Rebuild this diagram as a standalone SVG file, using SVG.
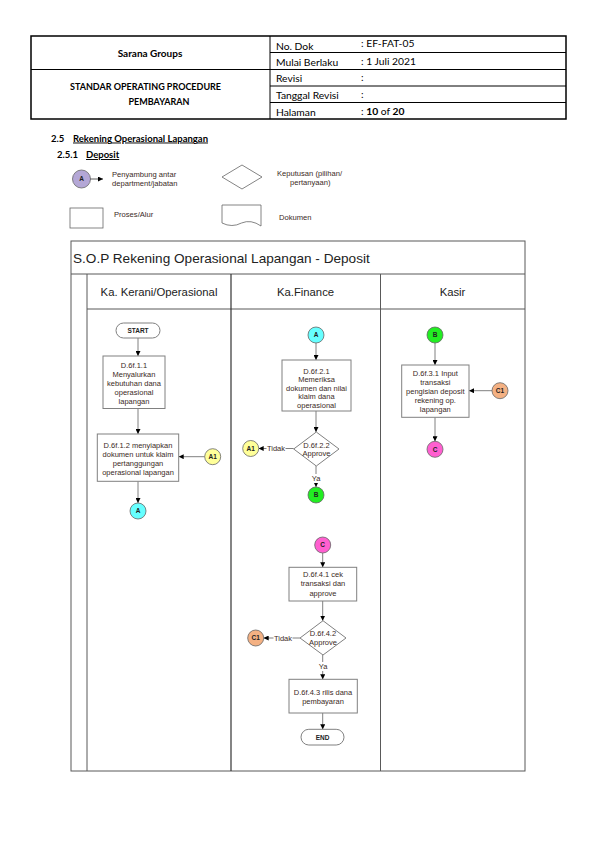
<svg xmlns="http://www.w3.org/2000/svg" width="595" height="842" viewBox="0 0 595 842">
<style>
.hd{font-family:Lato,"Liberation Sans",sans-serif;fill:#000}
.b{font-weight:bold}
.t{font-family:"Liberation Sans",Arial,sans-serif;font-size:7.5px;fill:#3b2a1e;text-anchor:middle}
.lg{font-family:"Liberation Sans",Arial,sans-serif;font-size:7.6px;fill:#3b2a1e}
.box{fill:#fff;stroke:#808080;stroke-width:1}
.cn{stroke:#333;stroke-width:0.8}
.ln{fill:none;stroke:#808080;stroke-width:1}
.fr{fill:none;stroke:#595959;stroke-width:1}
.lane{font-family:"Liberation Sans",Arial,sans-serif;font-size:11.3px;fill:#222;text-anchor:middle}
.ct{font-family:"Liberation Sans",Arial,sans-serif;font-size:6.5px;font-weight:bold;fill:#222;text-anchor:middle}
</style>
<defs>
<marker id="ah" viewBox="0 0 10 10" refX="10" refY="5" markerWidth="5" markerHeight="5" orient="auto" markerUnits="userSpaceOnUse"><path d="M0,0 L10,5 L0,10 z" fill="#000"/></marker>
</defs>
<rect width="595" height="842" fill="#fff"/>

<g id="header">
<rect x="31" y="36" width="535" height="83" fill="none" stroke="#000" stroke-width="1.5"/>
<line x1="270" y1="36" x2="270" y2="119" stroke="#000" stroke-width="1"/>
<line x1="31" y1="69.5" x2="566" y2="69.5" stroke="#000" stroke-width="1"/>
<line x1="270" y1="52.5" x2="566" y2="52.5" stroke="#000" stroke-width="1"/>
<line x1="270" y1="86" x2="566" y2="86" stroke="#000" stroke-width="1"/>
<line x1="270" y1="102.5" x2="566" y2="102.5" stroke="#000" stroke-width="1"/>
<text class="hd b" x="150" y="56.5" font-size="10" text-anchor="middle">Sarana Groups</text>
<text class="hd b" x="145.5" y="90" font-size="9" text-anchor="middle">STANDAR OPERATING PROCEDURE</text>
<text class="hd b" x="159" y="104.5" font-size="9" text-anchor="middle">PEMBAYARAN</text>
<text class="hd" x="276" y="49.5" font-size="10.3">No. Dok</text>
<text class="hd" x="276" y="66" font-size="10.3">Mulai Berlaku</text>
<text class="hd" x="276" y="81.5" font-size="10.3">Revisi</text>
<text class="hd" x="276" y="99" font-size="10.3">Tanggal Revisi</text>
<text class="hd" x="276" y="115.5" font-size="10.3">Halaman</text>
<text class="hd" x="361" y="46.5" font-size="10.3">: EF-FAT-05</text>
<text class="hd" x="361" y="64.5" font-size="10.3">: 1 Juli 2021</text>
<text class="hd" x="361" y="80.5" font-size="10.3">:</text>
<text class="hd" x="361" y="97.5" font-size="10.3">:</text>
<text class="hd" x="361" y="115" font-size="10.3">: <tspan class="b">10</tspan> of <tspan class="b">20</tspan></text>
</g>

<g id="section">
<text class="hd b" x="51" y="141.5" font-size="9.5">2.5 <tspan x="73" text-decoration="underline">Rekening Operasional Lapangan</tspan></text>
<text class="hd b" x="57" y="158" font-size="9.5">2.5.1 <tspan x="86" text-decoration="underline">Deposit</tspan></text>
</g>

<g id="legend">
<circle cx="81.5" cy="179" r="9" fill="#b4a7d6" stroke="#666" stroke-width="0.8"/>
<text class="ct" x="81.5" y="181.3">A</text>
<line x1="90.5" y1="179" x2="103" y2="179" class="cn" marker-end="url(#ah)"/>
<text class="lg" x="112" y="176.5">Penyambung antar</text>
<text class="lg" x="112" y="186">department/jabatan</text>
<polygon points="222,177 242,165 262,177 242,189" fill="#fff" stroke="#666" stroke-width="0.8"/>
<text class="lg" x="277" y="175.5">Keputusan (pilihan/</text>
<text class="lg" x="290" y="184.5">pertanyaan)</text>
<rect x="70" y="208" width="33" height="20" fill="#fff" stroke="#666" stroke-width="0.8"/>
<text class="lg" x="114" y="216.5">Proses/Alur</text>
<path d="M222,205 L261,205 L261,226 Q251,219 241.5,223 Q232,228 222,223 Z" fill="#fff" stroke="#666" stroke-width="0.8"/>
<text class="lg" x="279" y="220">Dokumen</text>
</g>

<g id="frame">
<rect x="71" y="241" width="454" height="530" class="fr"/>
<line x1="71" y1="274" x2="525" y2="274" class="fr"/>
<line x1="87" y1="274" x2="87" y2="771" class="fr"/>
<line x1="87" y1="309" x2="525" y2="309" class="fr"/>
<line x1="231" y1="274" x2="231" y2="771" stroke="#333" stroke-width="1.2"/>
<line x1="380.5" y1="274" x2="380.5" y2="771" class="fr"/>
<text x="73" y="262.5" font-family="Liberation Sans, Arial, sans-serif" font-size="13.6" fill="#222">S.O.P Rekening Operasional Lapangan - Deposit</text>
<text class="lane" x="159" y="296">Ka. Kerani/Operasional</text>
<text class="lane" x="305.5" y="296">Ka.Finance</text>
<text class="lane" x="452.5" y="296">Kasir</text>
</g>

<g id="connectors">
<line x1="138" y1="338" x2="138" y2="356" class="ln" marker-end="url(#ah)"/>
<line x1="138" y1="408.5" x2="138" y2="434" class="ln" marker-end="url(#ah)"/>
<line x1="204.7" y1="456.7" x2="178.7" y2="456.7" class="ln" marker-end="url(#ah)"/>
<line x1="138" y1="481.3" x2="138" y2="503" class="ln" marker-end="url(#ah)"/>
<line x1="316" y1="343" x2="316" y2="360" class="ln" marker-end="url(#ah)"/>
<line x1="316" y1="411" x2="316" y2="432" class="ln" marker-end="url(#ah)"/>
<line x1="293.7" y1="448.5" x2="258.7" y2="448.5" class="ln" marker-end="url(#ah)"/>
<line x1="316" y1="466" x2="316" y2="487" class="ln" marker-end="url(#ah)"/>
<line x1="435" y1="343" x2="435" y2="365" class="ln" marker-end="url(#ah)"/>
<line x1="492" y1="390.7" x2="469" y2="390.7" class="ln" marker-end="url(#ah)"/>
<line x1="435" y1="417.3" x2="435" y2="441.3" class="ln" marker-end="url(#ah)"/>
<line x1="322.7" y1="553" x2="322.7" y2="567.3" class="ln" marker-end="url(#ah)"/>
<line x1="322.7" y1="601" x2="322.7" y2="620.7" class="ln" marker-end="url(#ah)"/>
<line x1="300" y1="638" x2="263.7" y2="638" class="ln" marker-end="url(#ah)"/>
<line x1="322.7" y1="655" x2="322.7" y2="679.3" class="ln" marker-end="url(#ah)"/>
<line x1="322.7" y1="713" x2="322.7" y2="729.3" class="ln" marker-end="url(#ah)"/>
<rect x="266.5" y="443.5" width="19" height="10" fill="#fff"/>
<text class="t" x="276" y="451">Tidak</text>
<rect x="309" y="474" width="14" height="9" fill="#fff"/>
<text class="t" x="316" y="481.3">Ya</text>
<rect x="273.5" y="633" width="19" height="10" fill="#fff"/>
<text class="t" x="283" y="640.5">Tidak</text>
<rect x="316" y="662" width="14" height="9" fill="#fff"/>
<text class="t" x="323" y="669.3">Ya</text>
</g>

<g id="start">
<rect x="116" y="323" width="44" height="15" rx="7.5" class="box"/>
<text class="ct" x="138" y="333">START</text>
</g>
<g id="d611">
<rect x="103" y="356" width="62" height="52.5" class="box"/>
<text class="t" x="134" y="367.5">D.6f.1.1</text>
<text class="t" x="134" y="376.7">Menyalurkan</text>
<text class="t" x="134" y="385.8">kebutuhan dana</text>
<text class="t" x="134" y="394.8">operasional</text>
<text class="t" x="134" y="403.6">lapangan</text>
</g>
<g id="d612">
<rect x="97.3" y="434" width="81.4" height="47.3" class="box"/>
<text class="t" x="138" y="447.8">D.6f.1.2 menyiapkan</text>
<text class="t" x="138" y="457">dokumen untuk klaim</text>
<text class="t" x="138" y="466">pertanggungan</text>
<text class="t" x="138" y="475">operasional lapangan</text>
</g>
<g id="a1-left">
<circle cx="212.7" cy="456.7" r="8" fill="#ffff99" stroke="#666" stroke-width="0.8"/>
<text class="ct" x="212.7" y="459">A1</text>
</g>
<g id="a-left">
<circle cx="138" cy="511" r="8" fill="#66ffff" stroke="#666" stroke-width="0.8"/>
<text class="ct" x="138" y="513.3">A</text>
</g>

<g id="a-fin">
<circle cx="316" cy="335" r="8" fill="#66ffff" stroke="#666" stroke-width="0.8"/>
<text class="ct" x="316" y="337.3">A</text>
</g>
<g id="d621">
<rect x="282" y="360" width="69" height="51" class="box"/>
<text class="t" x="316.5" y="373.5">D.6f.2.1</text>
<text class="t" x="316.5" y="382">Memeriksa</text>
<text class="t" x="316.5" y="390.5">dokumen dan nilai</text>
<text class="t" x="316.5" y="399">klaim dana</text>
<text class="t" x="316.5" y="407.5">operasional</text>
</g>
<g id="d622">
<polygon points="293.7,449 316.3,432 339,449 316.3,466" class="box"/>
<text class="t" x="316.5" y="447.8">D.6f.2.2</text>
<text class="t" x="316.5" y="456.3">Approve</text>
</g>
<g id="a1-fin">
<circle cx="250.7" cy="448.5" r="8" fill="#ffff99" stroke="#666" stroke-width="0.8"/>
<text class="ct" x="250.7" y="450.8">A1</text>
</g>
<g id="b-fin">
<circle cx="316" cy="495" r="8" fill="#22ee22" stroke="#666" stroke-width="0.8"/>
<text class="ct" x="316" y="497.3">B</text>
</g>

<g id="b-kasir">
<circle cx="435" cy="335" r="8" fill="#22ee22" stroke="#666" stroke-width="0.8"/>
<text class="ct" x="435" y="337.3">B</text>
</g>
<g id="d631">
<rect x="401.7" y="365" width="67.3" height="52.3" class="box"/>
<text class="t" x="435.3" y="376">D.6f.3.1 Input</text>
<text class="t" x="435.3" y="385">transaksi</text>
<text class="t" x="435.3" y="394">pengisian deposit</text>
<text class="t" x="435.3" y="403">rekening op.</text>
<text class="t" x="435.3" y="412">lapangan</text>
</g>
<g id="c1-kasir">
<circle cx="500" cy="390.7" r="8" fill="#f4b183" stroke="#666" stroke-width="0.8"/>
<text class="ct" x="500" y="393">C1</text>
</g>
<g id="c-kasir">
<circle cx="435" cy="449.3" r="8" fill="#ff5fd0" stroke="#666" stroke-width="0.8"/>
<text class="ct" x="435" y="451.6">C</text>
</g>

<g id="c-fin">
<circle cx="322.7" cy="545" r="8" fill="#ff5fd0" stroke="#666" stroke-width="0.8"/>
<text class="ct" x="322.7" y="547.3">C</text>
</g>
<g id="d641">
<rect x="289" y="567.3" width="67.7" height="33.7" class="box"/>
<text class="t" x="323" y="577">D.6f.4.1 cek</text>
<text class="t" x="323" y="586">transaksi dan</text>
<text class="t" x="323" y="595.7">approve</text>
</g>
<g id="d642">
<polygon points="300,638 323,620.7 346,638 323,655" class="box"/>
<text class="t" x="323" y="635.5">D.6f.4.2</text>
<text class="t" x="323" y="644.8">Approve</text>
</g>
<g id="c1-fin">
<circle cx="255.7" cy="638" r="8" fill="#f4b183" stroke="#666" stroke-width="0.8"/>
<text class="ct" x="255.7" y="640.3">C1</text>
</g>
<g id="d643">
<rect x="289" y="679.3" width="68.3" height="33.7" class="box"/>
<text class="t" x="323" y="695">D.6f.4.3 rilis dana</text>
<text class="t" x="323" y="703.8">pembayaran</text>
</g>
<g id="end">
<rect x="301" y="729.3" width="43" height="15.7" rx="7.8" class="box"/>
<text class="ct" x="322.5" y="739.5">END</text>
</g>
</svg>
